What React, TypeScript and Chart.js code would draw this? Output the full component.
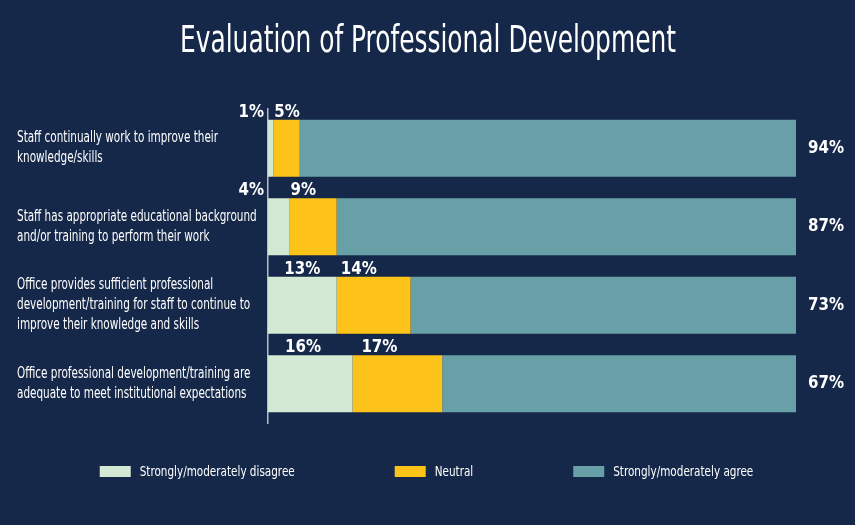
import React, { useEffect, useRef } from "react";
import { Chart, registerables } from "chart.js";

Chart.register(...registerables);

const titleText = "Evaluation of Professional Development";
const categories: string[][] = [
  ["Staff continually work to improve their", "knowledge/skills"],
  ["Staff has appropriate educational background", "and/or training to perform their work"],
  [
    "Office provides sufficient professional",
    "development/training for staff to continue to",
    "improve their knowledge and skills",
  ],
  ["Office professional development/training are", "adequate to meet institutional expectations"],
];
const seriesNames = ["Strongly/moderately disagree", "Neutral", "Strongly/moderately agree"];
const disagree = [1, 4, 13, 16];
const neutral = [5, 9, 14, 17];
const agree = [94, 87, 73, 67];
const seriesColors = ["#d3e9d4", "#fec318", "#68a0a7"];

const FONT = "'DejaVu Sans Condensed', 'DejaVu Sans', sans-serif";
const BG = "#152849";

// horizontal condensing factors, measured at runtime so glyph widths match the reference
const squeeze = { title: 1, tick: 1, value: 1, legend: 1 };

function measure(font: string, text: string) {
  const c = document.createElement("canvas").getContext("2d")!;
  c.font = font;
  return c.measureText(text).width;
}

function fillCondensed(ctx: CanvasRenderingContext2D, text: string, x: number, y: number, sx: number) {
  ctx.save();
  ctx.translate(x, y);
  ctx.scale(sx, 1);
  ctx.fillText(text, 0, 0);
  ctx.restore();
}

const bgPlugin = {
  id: "bgFill",
  beforeDraw(chart: any) {
    const ctx = chart.ctx;
    ctx.save();
    ctx.fillStyle = BG;
    ctx.fillRect(0, 0, chart.width, chart.height);
    ctx.restore();
    const scale = chart.scales.y;
    if (scale && !scale._condensed) {
      const orig = scale.drawLabels.bind(scale);
      scale._computeLabelArea = () => undefined;
      scale.drawLabels = (area: any) => {
        const c = chart.ctx;
        c.save();
        c.translate(scale.left, 0);
        c.scale(squeeze.tick, 1);
        c.translate(-scale.left, 0);
        orig(area);
        c.restore();
      };
      scale._condensed = true;
    }
  },
};

const titlePlugin = {
  id: "condensedTitle",
  afterDraw(chart: any) {
    const ctx = chart.ctx;
    ctx.save();
    ctx.fillStyle = "#ffffff";
    ctx.font = `37px ${FONT}`;
    ctx.textAlign = "center";
    ctx.textBaseline = "alphabetic";
    fillCondensed(ctx, titleText, chart.width / 2 + 0.5, 52, squeeze.title);
    ctx.restore();
  },
};

const labelPlugin = {
  id: "valueLabels",
  afterDatasetsDraw(chart: any) {
    const ctx = chart.ctx;
    ctx.save();
    ctx.fillStyle = "#ffffff";
    ctx.font = `bold 18px ${FONT}`;
    const sx = squeeze.value;
    chart.data.datasets.forEach((ds: any, di: number) => {
      const meta = chart.getDatasetMeta(di);
      meta.data.forEach((el: any, i: number) => {
        const v = ds.data[i];
        const text = `${v}%`;
        const tw = ctx.measureText(text).width * sx;
        const start = Math.min(el.base, el.x);
        const end = Math.max(el.base, el.x);
        const w = end - start;
        const top = el.y - el.height / 2 - 3;
        if (di === 2) {
          ctx.textAlign = "left";
          ctx.textBaseline = "middle";
          fillCondensed(ctx, text, end + 12, el.y, sx);
        } else if (di === 0) {
          ctx.textBaseline = "alphabetic";
          if (w < tw) {
            ctx.textAlign = "right";
            fillCondensed(ctx, text, start - 4, top, sx);
          } else {
            ctx.textAlign = "center";
            fillCondensed(ctx, text, start + Math.min(w / 2, tw / 2 + 17), top, sx);
          }
        } else {
          ctx.textBaseline = "alphabetic";
          ctx.textAlign = "center";
          fillCondensed(ctx, text, start + Math.max(tw / 2 + 1, 0.3 * w), top, sx);
        }
      });
    });
    ctx.restore();
  },
};

const legendPlugin = {
  id: "customLegend",
  afterDraw(chart: any) {
    const ctx = chart.ctx;
    ctx.save();
    ctx.font = `13.5px ${FONT}`;
    const sx = squeeze.legend;
    const boxW = 31;
    const boxH = 11;
    const textGap = 9;
    const itemGap = 100;
    const items = chart.data.datasets.map((ds: any) => ({
      label: ds.label,
      color: ds.backgroundColor,
      w: boxW + textGap + ctx.measureText(ds.label).width * sx,
    }));
    const total = items.reduce((s: number, it: any) => s + it.w, 0) + itemGap * (items.length - 1);
    let x = (chart.width - total) / 2 - 1;
    const y = 471.5;
    items.forEach((it: any) => {
      ctx.fillStyle = it.color;
      ctx.fillRect(x, y - boxH / 2, boxW, boxH);
      ctx.fillStyle = "#ffffff";
      ctx.textAlign = "left";
      ctx.textBaseline = "middle";
      fillCondensed(ctx, it.label, x + boxW + textGap, y + 0.5, sx);
      x += it.w + itemGap;
    });
    ctx.restore();
  },
};

export default function App() {
  const ref = useRef<HTMLCanvasElement | null>(null);
  useEffect(() => {
    document.body.style.margin = "0";
    document.body.style.background = BG;
    if (!ref.current) return;
    squeeze.title = 496 / measure(`37px ${FONT}`, titleText);
    squeeze.tick = 201 / measure(`16px ${FONT}`, categories[0][0]);
    squeeze.value = 36 / measure(`bold 18px ${FONT}`, "94%");
    squeeze.legend = 155 / measure(`13.5px ${FONT}`, seriesNames[0]);
    const chart = new Chart(ref.current, {
      type: "bar",
      data: {
        labels: categories,
        datasets: [
          { label: seriesNames[0], data: disagree, backgroundColor: seriesColors[0] },
          { label: seriesNames[1], data: neutral, backgroundColor: seriesColors[1] },
          { label: seriesNames[2], data: agree, backgroundColor: seriesColors[2] },
        ],
      },
      options: {
        indexAxis: "y",
        responsive: false,
        animation: false,
        datasets: {
          bar: { barPercentage: 0.726, categoryPercentage: 1, borderWidth: 0 },
        },
        layout: { padding: { left: 17, right: 59, top: 109, bottom: 102 } },
        plugins: {
          legend: { display: false },
          tooltip: { enabled: false },
          title: { display: false },
        },
        scales: {
          x: { stacked: true, min: 0, max: 100, display: false },
          y: {
            stacked: true,
            grid: { display: false },
            border: { display: true, color: "#b5bcc6", width: 1.5 },
            ticks: {
              color: "#ffffff",
              crossAlign: "far",
              autoSkip: false,
              font: { family: FONT, size: 16, lineHeight: 1.25 },
            },
            afterFit(scale: any) {
              scale.width = 251;
            },
          },
        },
      } as any,
      plugins: [bgPlugin, labelPlugin, legendPlugin, titlePlugin],
    });
    return () => chart.destroy();
  }, []);
  return (
    <div style={{ width: 855, height: 525, background: BG }}>
      <canvas ref={ref} width={855} height={525} />
    </div>
  );
}
